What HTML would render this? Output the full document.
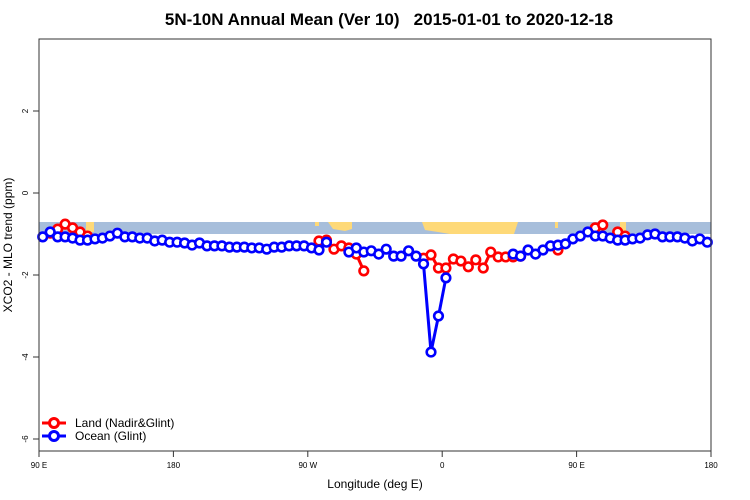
<!DOCTYPE html>
<html><head><meta charset="utf-8"><style>
body{margin:0;background:#fff}
svg{display:block;font-family:"Liberation Sans",sans-serif}
</style></head><body>
<svg id="c" width="750" height="500">
<text x="389" y="25" text-anchor="middle" font-size="17" font-weight="bold" style="white-space:pre" xml:space="preserve">5N-10N Annual Mean (Ver 10)   2015-01-01 to 2020-12-18</text>
<text x="375" y="488" text-anchor="middle" font-size="12">Longitude (deg E)</text>
<text transform="translate(12,245) rotate(-90)" text-anchor="middle" font-size="12">XCO2 - MLO trend (ppm)</text>
<g id="map">
<rect x="39" y="222" width="672" height="12" fill="#a7bedb"/>
<rect x="62" y="222" width="4" height="6" fill="#fed978"/>
<rect x="86" y="222" width="8" height="10" fill="#fed978"/>
<rect x="315" y="222" width="4" height="4" fill="#fed978"/>
<polygon points="328,222 352,222 352,229 345,231 333,229" fill="#fed978"/>
<polygon points="422,222 518,222 514,234 450,234 438,232 425,230" fill="#fed978"/>
<rect x="555" y="222" width="3" height="6" fill="#fed978"/>
<rect x="620" y="222" width="6" height="10" fill="#fed978"/>
</g>
<g id="axes"></g>
<g id="series"></g>
<rect x="39" y="39" width="672" height="412" fill="none" stroke="#333" stroke-width="1"/>
<g>
<g><line x1="42" y1="423" x2="66" y2="423" stroke="#f00" stroke-width="3"/><circle cx="54" cy="423" r="4.5" fill="#fff" stroke="#f00" stroke-width="3"/><text x="75" y="427" font-size="12">Land (Nadir&amp;Glint)</text></g>
<g><line x1="42" y1="436" x2="66" y2="436" stroke="#00f" stroke-width="3"/><circle cx="54" cy="436" r="4.5" fill="#fff" stroke="#00f" stroke-width="3"/><text x="75" y="440" font-size="12">Ocean (Glint)</text></g>
</g>
</svg>
<script>
const xTicks=[90,180,270,360,450,540];
const xTickLabels=["90 E","180","90 W","0","90 E","180"];
const yTicks=[2,0,-2,-4,-6];
const lonStart=92.5, lonStep=5, nPts=90;
const ocean=[-1.07,-0.95,-1.07,-1.07,-1.10,-1.15,-1.15,-1.12,-1.10,-1.05,-0.98,-1.07,-1.07,-1.10,-1.10,-1.17,-1.15,-1.20,-1.20,-1.22,-1.27,-1.22,-1.29,-1.29,-1.29,-1.32,-1.32,-1.32,-1.34,-1.34,-1.37,-1.32,-1.32,-1.29,-1.29,-1.29,-1.34,-1.39,-1.20,null,null,-1.44,-1.34,-1.44,-1.41,-1.49,-1.37,-1.54,-1.54,-1.41,-1.54,-1.73,-3.88,-3.00,-2.07,null,null,null,null,null,null,null,null,-1.49,-1.54,-1.39,-1.49,-1.39,-1.29,-1.27,-1.24,-1.12,-1.05,-0.95,-1.05,-1.05,-1.10,-1.15,-1.15,-1.12,-1.10,-1.02,-1.00,-1.07,-1.07,-1.07,-1.10,-1.17,-1.12,-1.20];
const land=[null,-0.98,-0.88,-0.76,-0.85,-0.95,-1.05,null,null,null,null,null,null,null,null,null,null,null,null,null,null,null,null,null,null,null,null,null,null,null,null,null,null,null,null,null,null,-1.17,-1.15,-1.37,-1.29,-1.34,-1.49,-1.90,null,null,null,null,null,null,null,-1.59,-1.51,-1.83,-1.83,-1.61,-1.66,-1.80,-1.63,-1.83,-1.44,-1.56,-1.56,-1.56,-1.54,null,null,null,null,-1.39,null,null,null,null,-0.85,-0.78,null,-0.95,-1.05,null,null,null,null,null,null,null,null,null,null,null];
const X=l=>39+(l-90)*(672/450);
const Y=v=>193-v*41;
const NS="http://www.w3.org/2000/svg";
function mk(t,a,p){const e=document.createElementNS(NS,t);for(const k in a)e.setAttribute(k,a[k]);p.appendChild(e);return e;}
const ax=document.getElementById('axes');
xTicks.forEach((t,i)=>{
 const l=mk('line',{x1:X(t),x2:X(t),y1:451,y2:457,stroke:'#333'},ax);
 
 
 const tx=mk('text',{x:X(t),y:468,'text-anchor':'middle','font-size':8},ax);
 tx.textContent=xTickLabels[i];
 
 
});
yTicks.forEach(t=>{
 const l=mk('line',{x1:33,x2:39,y1:Y(t),y2:Y(t),stroke:'#333'},ax);
 
 
 const tx=mk('text',{transform:`translate(28,${Y(t)}) rotate(-90)`,'text-anchor':'middle','font-size':8},ax);
 tx.textContent=String(t);
 
 
});
const sg=document.getElementById('series');
function draw(vals,col,name){
 const g=mk('g',{},sg);
 
 
 let d='',pen=false;
 vals.forEach((v,i)=>{const l=lonStart+i*lonStep;
  if(v===null){pen=false;return;}
  d+=(pen?'L':'M')+X(l).toFixed(1)+' '+Y(v).toFixed(1);pen=true;});
 const p=mk('path',{d:d,fill:'none',stroke:col,'stroke-width':3,'stroke-linejoin':'round'},g);
 
 
 vals.forEach((v,i)=>{if(v===null)return;const l=lonStart+i*lonStep;
  const c=mk('circle',{cx:X(l),cy:Y(v),r:4.3,fill:'#fff',stroke:col,'stroke-width':2.6},g);
  
  
 });
}
draw(land,'#f00','land');
draw(ocean,'#00f','ocean');
</script>
</body></html>
